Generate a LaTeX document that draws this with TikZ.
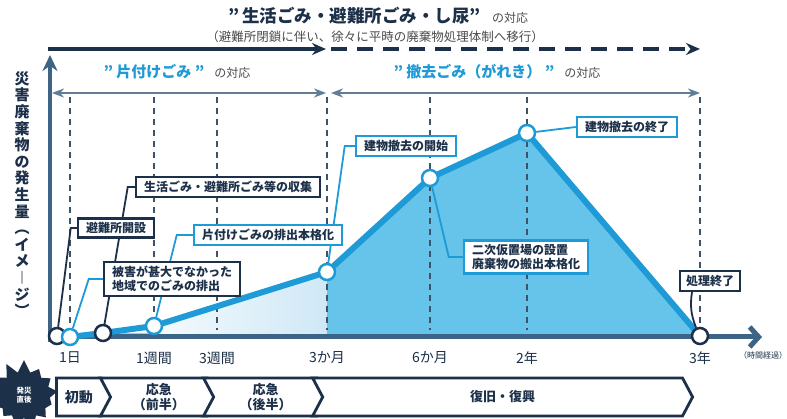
\documentclass[tikz,border=0pt]{standalone}
\usepackage{fontspec}
\setmainfont{Noto Sans CJK JP}
\usepackage{xcolor}
\usetikzlibrary{arrows.meta,shapes.arrows,shapes.symbols,calc,positioning}
\definecolor{navy}{HTML}{1C3049}
\definecolor{axisblue}{HTML}{3E6485}
\definecolor{spanblue}{HTML}{5F7D96}
\definecolor{sky}{HTML}{1E9AD6}
\definecolor{skyfill}{HTML}{66C3EA}
\definecolor{palefill}{HTML}{CFE8F6}
\definecolor{graytext}{HTML}{4A4A4A}
\definecolor{dashgray}{HTML}{3D5468}
\newcommand{\jpsize}[2]{\fontsize{#1}{#2}\selectfont}
\pgfdeclarelayer{wire}
\pgfdeclarelayer{top}
\pgfsetlayers{main,wire,top}

\begin{document}
\begin{tikzpicture}[x=1pt,y=-1pt]
\tikzset{CALLOUT/.style={draw=navy,line width=2.5pt,fill=white,inner xsep=8pt,inner ysep=4pt,font=\jpsize{12}{14}\bfseries,text=navy,align=left}}
\tikzset{BLUE CALLOUT/.style={CALLOUT,draw=sky}}
\tikzset{MARK/.style={circle,draw=sky,line width=2.5pt,fill=white,minimum size=16pt,inner sep=0pt}}
\tikzset{DARK MARK/.style={MARK,draw=navy}}
\tikzset{LEADER/.style={draw=navy,line width=1.8pt}}
\tikzset{BLUE LEADER/.style={LEADER,draw=sky}}
\tikzset{CURVE/.style={draw=sky,line width=6pt,line join=round}}
\tikzset{GRIDLINE/.style={draw=dashgray,line width=1.4pt,dash pattern=on 6pt off 5pt}}
\tikzset{TICK LABEL/.style={font=\jpsize{14}{16},text=navy}}
\tikzset{SPAN/.style={draw=spanblue,line width=2.5pt,{Stealth[length=12pt,width=9pt]}-{Stealth[length=12pt,width=9pt]}}}
\tikzset{FLOW/.style={draw=navy,line width=4pt,-{Stealth[length=14pt,width=12pt]}}}
\tikzset{PHASE/.style={draw=navy,line width=2.8pt,fill=white,signal,signal to=east,signal pointer angle=124,minimum height=38pt,inner sep=0pt,font=\jpsize{13}{15}\bfseries,text=navy,align=center}}
\tikzset{NOTCHED PHASE/.style={PHASE,signal from=west}}

\path[use as bounding box,fill=white] (0,0) rectangle (787,419);

% headings
\node[font=\jpsize{17.5}{18}\bfseries,text=navy,anchor=base west] (life title) at (225,23) {"\,生活ごみ・避難所ごみ・し尿"};
\node[font=\jpsize{12}{14},text=graytext,anchor=base west] (life tail) at ([xshift=4pt]life title.base east) {の対応};
\node[font=\jpsize{12.5}{14},text=graytext] (life note) at (375,37) {（避難所閉鎖に伴い、徐々に平時の廃棄物処理体制へ移行）};
\node[font=\jpsize{15}{16}\bfseries,text=sky,anchor=base west] (katazuke title) at (100,78) {"~片付けごみ~"};
\node[font=\jpsize{12}{14},text=graytext,anchor=base west] (katazuke tail) at ([xshift=3pt]katazuke title.base east) {の対応};
\node[font=\jpsize{15}{16}\bfseries,text=sky,anchor=base west] (gareki title) at (390,78) {"~撤去ごみ（がれき）~"};
\node[font=\jpsize{12}{14},text=graytext,anchor=base west] (gareki tail) at ([xshift=3pt]gareki title.base east) {の対応};
\node[font=\jpsize{15}{16.6}\bfseries,text=navy,align=center,anchor=north] (amount label) at (22,68) {災\\害\\廃\\棄\\物\\の\\発\\生\\量\\︵\\イ\\メ\\︱\\ジ\\︶};

\coordinate (flow start) at (48,49);
\coordinate (flow mid) at (326,49);
\coordinate (flow end) at (700,49);
\draw[FLOW] (flow start) -- (flow mid);
\draw[FLOW,dash pattern=on 16pt off 10pt] ([xshift=5pt]flow mid) -- (flow end);

\draw[SPAN] (52,93) -- (326,93);
\draw[SPAN] (331,93) -- (700,93);

% curve points
\coordinate (open pt) at (57,336);
\coordinate (early pt) at (70,337);
\coordinate (collect pt) at (103,333);
\coordinate (katazuke pt) at (154,326);
\coordinate (demostart pt) at (327,272);
\coordinate (second pt) at (430,178);
\coordinate (demoend pt) at (527,133);
\coordinate (finish pt) at (700,336);

\fill[left color=white,right color=palefill] (collect pt) -- (katazuke pt) -- (demostart pt) -- (demostart pt |- finish pt) -- cycle;
\fill[skyfill] (demostart pt) -- (second pt) -- (demoend pt) -- (finish pt) -- (demostart pt |- finish pt) -- cycle;

\foreach \x/\lab/\nm in {70/1日/day,154/1週間/week,217/3週間/weeks,327/3か月/months,430/6か月/halfyear,527/2年/twoyears,700/3年/threeyears}{
  \draw[GRIDLINE] (\x,97) -- (\x,330);
  \node[TICK LABEL] (\nm) at (\x,358) {\lab};
}
\node[font=\jpsize{8}{9},text=navy] (elapsed) at (763,355) {（時間経過）};

\draw[draw=axisblue,line width=5pt,-{Straight Barb[length=9pt,width=20pt]}] (48,337) -- (762,337);
\draw[draw=axisblue,line width=4.5pt,-{Stealth[length=16pt,width=15pt]}] (50,342) -- (50,55);

\draw[CURVE] (open pt) -- (early pt) -- (collect pt) -- (katazuke pt) -- (demostart pt) -- (second pt) -- (demoend pt) -- (finish pt);

\begin{pgfonlayer}{top}
\node[DARK MARK] (open mark) at (open pt) {};
\node[MARK] (early mark) at (early pt) {};
\node[DARK MARK] (collect mark) at (collect pt) {};
\node[MARK] (katazuke mark) at (katazuke pt) {};
\node[MARK] (demostart mark) at (demostart pt) {};
\node[MARK] (second mark) at (second pt) {};
\node[MARK] (demoend mark) at (demoend pt) {};
\node[DARK MARK] (finish mark) at (finish pt) {};

% callouts
\node[CALLOUT] (shelter box) at (116,228) {避難所開設};
\node[CALLOUT] (collect box) at (228,187) {生活ごみ・避難所ごみ等の収集};
\node[CALLOUT] (early box) at (172,279) {被害が甚大でなかった\\地域でのごみの排出};
\node[BLUE CALLOUT] (katazuke box) at (268,235) {片付けごみの排出本格化};
\node[BLUE CALLOUT] (demostart box) at (406,146) {建物撤去の開始};
\node[BLUE CALLOUT] (second box) at (526,257) {二次仮置場の設置\\廃棄物の搬出本格化};
\node[BLUE CALLOUT] (demoend box) at (627,127) {建物撤去の終了};
\node[CALLOUT,inner xsep=6pt] (finish box) at (710,281) {処理終了};
\end{pgfonlayer}

\begin{pgfonlayer}{wire}
\draw[LEADER] (open mark) -- ([xshift=-6pt]shelter box.west) -- (shelter box.west);
\draw[LEADER] (collect mark) -- ([xshift=-7pt]collect box.west) -- (collect box.west);
\draw[BLUE LEADER] (early mark) -- ([xshift=-14pt]early box.west) -- (early box.west);
\draw[BLUE LEADER] (katazuke mark) -- ([xshift=-16pt]katazuke box.west) -- (katazuke box.west);
\draw[BLUE LEADER] (demostart mark) -- ([xshift=-10pt]demostart box.west) -- (demostart box.west);
\draw[BLUE LEADER] (second mark) -- ([xshift=-14pt]second box.west) -- (second box.west);
\draw[BLUE LEADER] (demoend mark) -- (demoend box.west);
\draw[LEADER] (finish mark) to[bend left=15] ([xshift=-18pt]finish box.south);
\end{pgfonlayer}

% phases
\node[starburst,starburst points=13,starburst point height=13pt,random starburst=30,fill=navy,minimum width=78pt,minimum height=72pt,inner sep=0pt,font=\jpsize{7.5}{8.5}\bfseries,text=white,align=center] (onset) at (24,395) {発災\\直後};
\node[PHASE,minimum width=55pt,anchor=west,font=\jpsize{14}{15}\bfseries] (initial) at (55,397) {初動};
\node[NOTCHED PHASE,minimum width=117pt,right=-4pt of initial] (first half) {応急\\（前半）};
\node[NOTCHED PHASE,minimum width=124pt,right=-7pt of first half] (second half) {応急\\（後半）};
\node[NOTCHED PHASE,minimum width=380pt,right=-8pt of second half] (recovery) {復旧・復興};

\end{tikzpicture}
\end{document}
